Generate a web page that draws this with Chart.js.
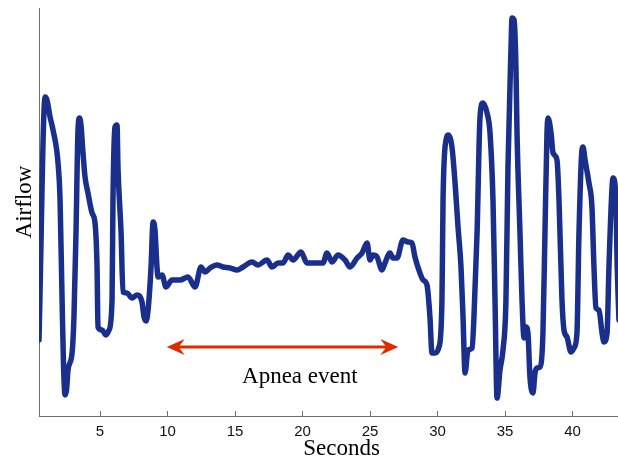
<!DOCTYPE html>
<html>
<head>
<meta charset="utf-8">
<script src="https://cdn.jsdelivr.net/npm/chart.js@4"></script>
<style>
html,body{margin:0;padding:0;background:#fff;}
#wrap{width:618px;height:462px;position:relative;}
</style>
</head>
<body>
<div id="wrap"><canvas id="c" width="618" height="462"></canvas></div>
<script>
// ---- data (seconds, airflow in arbitrary units) ----
const seconds = [0.48,0.93,1.07,1.30,1.52,1.89,2.04,2.19,2.30,2.41,2.52,2.63,2.93,3.07,3.22,3.37,3.48,3.59,3.74,3.89,4.11,4.41,4.63,4.78,4.85,5.15,5.44,5.67,5.89,5.96,6.11,6.26,6.33,6.56,6.70,7.00,7.37,7.74,8.11,8.26,8.41,8.56,8.78,8.93,9.07,9.22,9.30,9.59,9.89,10.33,10.93,11.52,12.04,12.48,12.78,13.15,13.67,14.11,14.63,15.15,15.59,16.26,16.70,17.37,17.74,18.19,18.56,18.93,19.30,19.89,20.33,21.07,21.52,21.81,22.19,22.63,23.15,23.52,24.04,24.41,24.78,25.00,25.22,25.52,25.89,26.11,26.48,26.70,27.00,27.44,27.81,28.11,28.33,28.70,28.93,29.22,29.44,29.59,29.81,30.11,30.33,30.41,30.63,30.78,31.07,31.30,31.52,31.74,31.89,32.04,32.26,32.56,32.70,32.93,33.15,33.37,33.67,33.89,34.11,34.26,34.41,34.63,34.85,35.07,35.22,35.44,35.52,35.67,35.81,35.89,36.11,36.26,36.41,36.56,36.70,36.85,37.07,37.22,37.37,37.59,37.81,37.96,38.11,38.19,38.41,38.56,38.85,39.00,39.22,39.37,39.59,39.89,40.11,40.33,40.48,40.70,40.78,40.93,41.22,41.44,41.59,41.74,41.96,42.19,42.33,42.56,42.70,42.93,43.00,43.22,43.30,43.44];
const airflow = [-0.72,1.71,1.68,1.51,1.38,1.05,0.68,-0.32,-0.99,-1.27,-1.22,-1.02,-0.85,-0.49,0.35,1.38,1.50,1.43,1.15,0.91,0.75,0.55,0.45,0.01,-0.59,-0.62,-0.67,-0.62,-0.32,0.68,1.41,1.43,1.01,0.35,-0.24,-0.25,-0.30,-0.27,-0.34,-0.49,-0.53,-0.42,0.01,0.46,0.38,0.01,-0.09,-0.07,-0.19,-0.12,-0.12,-0.09,-0.19,0.01,-0.04,0.00,0.03,0.01,0.00,-0.02,0.01,0.06,0.03,0.08,0.01,0.05,0.05,0.13,0.08,0.16,0.05,0.05,0.05,0.15,0.06,0.13,0.08,0.01,0.10,0.15,0.25,0.08,0.13,0.11,-0.02,0.05,0.15,0.10,0.10,0.28,0.26,0.25,0.11,-0.05,-0.12,-0.17,-0.49,-0.85,-0.85,-0.79,-0.32,0.68,1.28,1.33,1.21,0.85,0.41,0.01,-0.49,-1.05,-0.82,-0.80,-0.49,0.35,1.51,1.65,1.55,1.35,0.68,-0.32,-1.30,-1.02,-0.82,-0.32,1.01,2.18,2.50,2.48,2.01,1.35,0.35,-0.32,-0.70,-0.59,-0.65,-1.09,-1.25,-1.05,-1.00,-0.99,-0.65,0.35,1.35,1.50,1.35,1.15,1.08,0.68,-0.32,-0.62,-0.69,-0.84,-0.80,-0.65,0.35,1.18,1.21,1.08,0.85,0.61,0.01,-0.40,-0.42,-0.65,-0.74,-0.65,0.01,0.81,0.90,0.68,0.08,-0.52];
const xTicks = [5,10,15,20,25,30,35,40];
const xRange = [0.48, 43.37];
const yRange = [-1.48, 2.6];
const apneaSpan = [9.94, 27.1];
const apneaLevel = [-0.79];
const apneaLabelAt = [19.8, -1.09];
const apneaLabel = "Apnea event";
const xTitle = "Seconds";
const yTitle = "Airflow";

const points = seconds.map((s, i) => ({x: s, y: airflow[i]}));

const apneaPlugin = {
  id: 'apnea',
  afterDatasetsDraw(chart) {
    const {ctx, scales: {x, y}, chartArea} = chart;
    const x1 = x.getPixelForValue(apneaSpan[0]);
    const x2 = x.getPixelForValue(apneaSpan[1]);
    const py = y.getPixelForValue(apneaLevel[0]);
    const red = '#dc2c00';
    ctx.save();
    ctx.strokeStyle = red;
    ctx.fillStyle = red;
    ctx.lineWidth = 3;
    ctx.beginPath();
    ctx.moveTo(x1 + 10, py);
    ctx.lineTo(x2 - 10, py);
    ctx.stroke();
    const head = (tip, dir) => {
      ctx.beginPath();
      ctx.moveTo(tip, py);
      ctx.lineTo(tip - dir * 18, py - 8);
      ctx.lineTo(tip - dir * 12, py);
      ctx.lineTo(tip - dir * 18, py + 8);
      ctx.closePath();
      ctx.fill();
    };
    head(x2, 1);
    head(x1, -1);
    ctx.fillStyle = '#000';
    ctx.font = '23px "Liberation Serif"';
    ctx.textAlign = 'center';
    ctx.textBaseline = 'middle';
    ctx.fillText(apneaLabel, x.getPixelForValue(apneaLabelAt[0]), y.getPixelForValue(apneaLabelAt[1]));
    // axis titles
    ctx.fillText(xTitle, (chartArea.left + chartArea.right) / 2 + 13, 449);
    ctx.translate(24.5, (chartArea.top + chartArea.bottom) / 2 - 10);
    ctx.rotate(-Math.PI / 2);
    ctx.fillText(yTitle, 0, 0);
    ctx.restore();
  }
};

new Chart(document.getElementById('c'), {
  type: 'line',
  data: {
    datasets: [{
      data: points,
      borderColor: '#1a2f8c',
      borderWidth: 5.5,
      pointRadius: 0,
      fill: false,
      tension: 0,
      cubicInterpolationMode: 'monotone',
      borderJoinStyle: 'round',
      borderCapStyle: 'round'
    }]
  },
  options: {
    responsive: false,
    animation: false,
    devicePixelRatio: 1,
    layout: {padding: {top: 8, right: 0, left: 0, bottom: 0}},
    plugins: {legend: {display: false}, tooltip: {enabled: false}},
    scales: {
      x: {
        type: 'linear',
        min: xRange[0],
        max: xRange[1],
        afterBuildTicks: s => { s.ticks = xTicks.map(v => ({value: v})); },
        afterFit: s => { s.height = 46; },
        grid: {display: true, drawOnChartArea: false, drawTicks: true, tickLength: -5, color: '#6e6e6e', lineWidth: 1},
        border: {display: true, color: '#6e6e6e', width: 1},
        ticks: {color: '#111', font: {family: 'Liberation Sans', size: 15}, padding: 12, maxRotation: 0, autoSkip: false},
        title: {display: false}
      },
      y: {
        min: yRange[0],
        max: yRange[1],
        afterFit: s => { s.width = 39; },
        grid: {display: false},
        border: {display: true, color: '#6e6e6e', width: 1},
        ticks: {display: false},
        title: {display: false}
      }
    }
  },
  plugins: [apneaPlugin]
});
</script>
</body>
</html>
